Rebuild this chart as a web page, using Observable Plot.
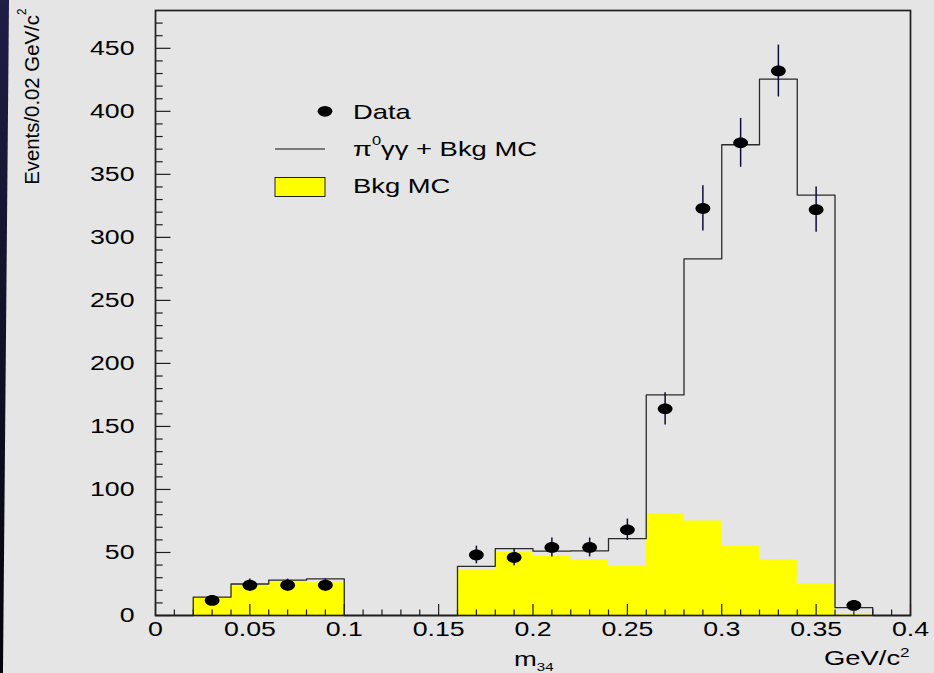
<!DOCTYPE html>
<html><head><meta charset="utf-8">
<script src="https://cdn.jsdelivr.net/npm/d3@7"></script>
<script src="https://cdn.jsdelivr.net/npm/@observablehq/plot@0.6"></script>
<style>
html,body{margin:0;padding:0;background:#e5e5e5;width:934px;height:673px;overflow:hidden;}
#wrap{position:relative;width:934px;height:673px;}
#wrap svg{position:absolute;left:0;top:0;}
#strip{position:absolute;left:0;top:0;width:9px;height:673px;background:linear-gradient(#1e1e46,#04040a);clip-path:polygon(0 0,100% 0,33% 100%,0 100%);z-index:2;}
</style></head><body><div id="wrap"><div id="strip"></div></div>
<script>
// ---- data ----
const binEdges = [0, 0.02, 0.04, 0.06, 0.08, 0.10, 0.12, 0.14, 0.16, 0.18, 0.20, 0.22, 0.24, 0.26, 0.28, 0.30, 0.32, 0.34, 0.36, 0.38, 0.40];
const totalMC = [0, 14.5, 25, 28, 29, 0, 0, 0, 39, 53, 51, 51.3, 61, 175, 283, 373.5, 425.6, 333.6, 6.3, 0];
const bkgMC   = [0, 14, 24, 27, 26, 0, 0, 0, 36, 50, 47, 44, 39, 81, 75, 55, 44, 25, 0.5, 0];
const dataX   = [0.03, 0.05, 0.07, 0.09, 0.17, 0.19, 0.21, 0.23, 0.25, 0.27, 0.29, 0.31, 0.33, 0.35, 0.37];
const dataY   = [12, 24, 24, 24, 48, 46, 54, 54, 68, 164, 323, 375, 432, 322, 8];
const dataErr = [3.5, 4.9, 4.9, 4.9, 7, 6.6, 7.5, 7.5, 8.5, 12.8, 18, 19.4, 20.6, 17.9, 2.8];
const xTicks = [0, 0.05, 0.1, 0.15, 0.2, 0.25, 0.3, 0.35, 0.4];
const xTickLabels = ["0", "0.05", "0.1", "0.15", "0.2", "0.25", "0.3", "0.35", "0.4"];
const xMinorTicks = [0.01,0.02,0.03,0.04,0.06,0.07,0.08,0.09,0.11,0.12,0.13,0.14,0.16,0.17,0.18,0.19,0.21,0.22,0.23,0.24,0.26,0.27,0.28,0.29,0.31,0.32,0.33,0.34,0.36,0.37,0.38,0.39];
const yTicks = [0, 50, 100, 150, 200, 250, 300, 350, 400, 450];
const yTickLabels = ["0", "50", "100", "150", "200", "250", "300", "350", "400", "450"];
const yMinorTicks = [10,20,30,40,60,70,80,90,110,120,130,140,160,170,180,190,210,220,230,240,260,270,280,290,310,320,330,340,360,370,380,390,410,420,430,440,460,470];
const legendLabels = ["Data", "Bkg MC"];

// ---- layout ----
const W = 934, H = 673, mL = 155, mR = 24, mT = 10, mB = 58;
const plotW = W - mL - mR, plotH = H - mT - mB;
const S = 1.37; // horizontal stretch of the original picture
const FONT = "'Liberation Sans', Arial, Helvetica, sans-serif";
const INK = "#1e1e1e";

const bins = binEdges.map((e, i) => ({x: e, total: i < totalMC.length ? totalMC[i] : 0, bkg: i < bkgMC.length ? bkgMC[i] : 0}));
const points = dataX.map((x, i) => ({x, y: dataY[i], e: dataErr[i]}));

const ellipse = {
  draw(ctx) {
    const rx = 7.4, ry = 5.4, k = 0.5523;
    ctx.moveTo(rx, 0);
    ctx.bezierCurveTo(rx, ry * k, rx * k, ry, 0, ry);
    ctx.bezierCurveTo(-rx * k, ry, -rx, ry * k, -rx, 0);
    ctx.bezierCurveTo(-rx, -ry * k, -rx * k, -ry, 0, -ry);
    ctx.bezierCurveTo(rx * k, -ry, rx, -ry * k, rx, 0);
    ctx.closePath();
  }
};

const svg = Plot.plot({
  width: W, height: H,
  marginLeft: mL, marginRight: mR, marginTop: mT, marginBottom: mB,
  style: {background: "transparent", fontFamily: FONT, color: "#000"},
  x: {domain: [0, 0.4]},
  y: {domain: [0, 480]},
  marks: [
    Plot.areaY(bins, {x: "x", y: "bkg", curve: "step-after", fill: "#ffff00"}),
    Plot.line(bins, {x: "x", y: "total", curve: "step-after", stroke: "#2a2a2a", strokeWidth: 1.3}),
    Plot.ruleX(points, {x: "x", y1: d => d.y - d.e, y2: d => d.y + d.e, stroke: "#0c0c3c", strokeWidth: 1.5}),
    Plot.dot(points, {x: "x", y: "y", symbol: ellipse, fill: "#000", r: 6}),
    Plot.ruleX(xTicks, {x: d => d, insetTop: plotH - 11, stroke: INK, strokeWidth: 1.2}),
    Plot.ruleX(xMinorTicks, {x: d => d, insetTop: plotH - 5.5, stroke: INK, strokeWidth: 1.2}),
    Plot.ruleY(yTicks, {y: d => d, insetRight: plotW - 15.5, stroke: INK, strokeWidth: 1.2}),
    Plot.ruleY(yMinorTicks, {y: d => d, insetRight: plotW - 7.7, stroke: INK, strokeWidth: 1.2}),
    Plot.frame({stroke: INK, strokeWidth: 1.7}),
    Plot.axisX(xTicks, {tickSize: 0, tickPadding: 7, fontSize: 19.5, label: null, tickFormat: d => xTickLabels[xTicks.indexOf(d)]}),
    Plot.axisY(yTicks, {tickSize: 0, tickPadding: 21, fontSize: 19.5, label: null, tickFormat: d => yTickLabels[yTicks.indexOf(d)]})
  ]
});
document.getElementById("wrap").prepend(svg);

// stretch tick label text horizontally like the original
svg.querySelectorAll('g[aria-label="x-axis tick label"] text, g[aria-label="y-axis tick label"] text').forEach(t => {
  let tr = t.getAttribute("transform");
  if (!tr) {
    const x = +(t.getAttribute("x") || 0), y = +(t.getAttribute("y") || 0);
    t.removeAttribute("x"); t.removeAttribute("y");
    tr = `translate(${x},${y})`;
  }
  t.setAttribute("transform", tr + ` scale(${S},1)`);
});

// ---- legend and titles ----
const g = d3.select(svg).append("g").attr("font-family", FONT).attr("fill", "#000").attr("text-anchor", "start");
function stext(x, y, size) {
  return g.append("text").attr("transform", `translate(${x},${y}) scale(${S},1)`).attr("font-size", size).attr("text-anchor", "start");
}
g.append("ellipse").attr("cx", 325).attr("cy", 111.3).attr("rx", 7.4).attr("ry", 5.4).attr("fill", "#000");
stext(353, 119.3, 20).text(legendLabels[0]);
g.append("line").attr("x1", 275).attr("x2", 325).attr("y1", 149).attr("y2", 149).attr("stroke", "#111").attr("stroke-width", 1);
const t2 = stext(353, 156, 20);
t2.append("tspan").text("π");
t2.append("tspan").attr("font-size", 12).attr("dy", -11).text("0");
t2.append("tspan").attr("dy", 11).text("γγ + Bkg MC");
g.append("rect").attr("x", 275).attr("y", 177.5).attr("width", 50).attr("height", 19).attr("fill", "#ffff00").attr("stroke", "#222").attr("stroke-width", 1);
stext(353, 193.3, 20).text(legendLabels[1]);

// x-axis titles
const mt = stext(514, 666, 20);
mt.append("tspan").text("m");
mt.append("tspan").attr("font-size", 11).attr("dy", 4.5).text("34");
const gt = stext(824, 665, 20);
gt.append("tspan").text("GeV/c");
gt.append("tspan").attr("font-size", 12.5).attr("dy", -8).text("2");

// y-axis title
const yt = g.append("text").attr("transform", "translate(39,8.6) rotate(-90) scale(0.97,1)")
  .attr("text-anchor", "end").attr("font-size", 21);
yt.append("tspan").text("Events/0.02 GeV/c");
yt.append("tspan").attr("font-size", 12).attr("dy", -13.5).text("2");
</script>
</body></html>
